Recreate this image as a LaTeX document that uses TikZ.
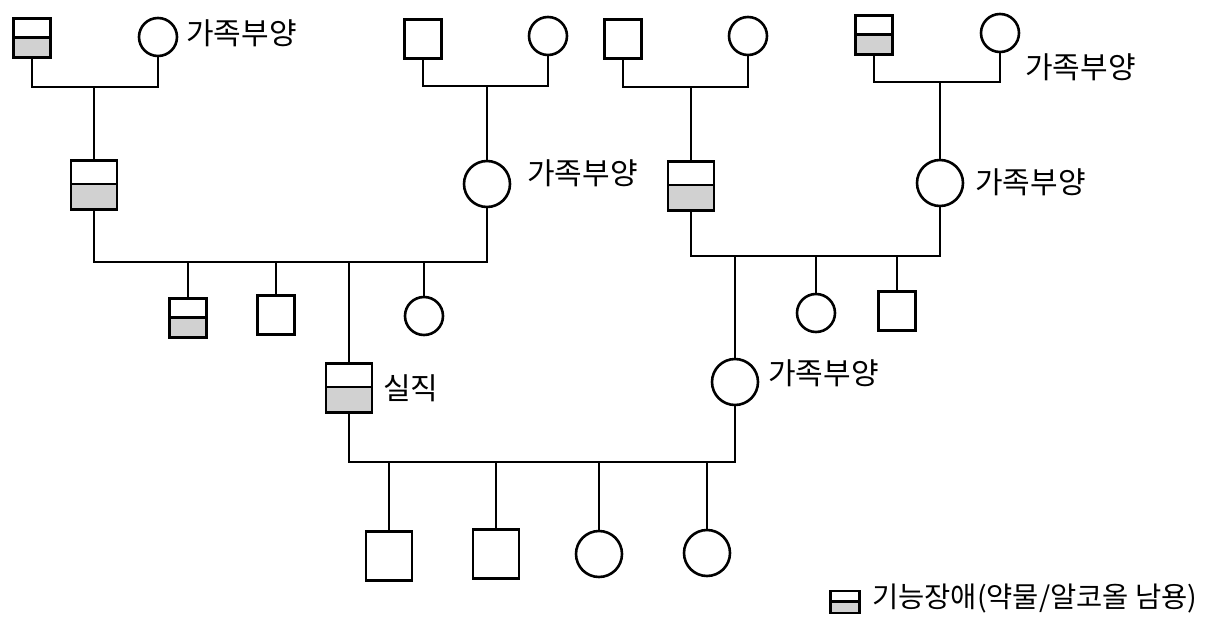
\documentclass[tikz,border=0pt]{standalone}
\usepackage{fontspec}
\setmainfont{Noto Sans CJK KR}
\usetikzlibrary{calc}
\definecolor{shadegray}{gray}{0.82}
\begin{document}
\begin{tikzpicture}[x=1pt,y=-1pt,
  ln/.style={line width=2.5pt},
  sq/.style={draw, line width=2.8pt, rectangle, inner sep=0pt, fill=white},
  smsq/.style={sq, minimum width=37pt, minimum height=39pt},
  bgsq/.style={sq, minimum width=46pt, minimum height=49pt},
  ci/.style={draw, line width=2.6pt, circle, inner sep=0pt, fill=white},
  smci/.style={ci, minimum size=38pt},
  bgci/.style={ci, minimum size=46pt},
  dys/.style={path picture={
    \fill[shadegray] (path picture bounding box.south west) rectangle
      ($(path picture bounding box.north east)!0.48!(path picture bounding box.south east)$);
    \draw[line width=2.6pt] ($(path picture bounding box.north west)!0.48!(path picture bounding box.south west)$) --
      ($(path picture bounding box.north east)!0.48!(path picture bounding box.south east)$);}},
  lbl/.style={anchor=west, inner sep=0pt, font=\fontsize{30}{30}\selectfont}
]
\useasboundingbox (0,0) rectangle (1212,623);

% generation 1
\node[smsq, dys] (a1) at (32,38) {};
\node[smci] (a2) at (158,37) {};
\node[smsq] (b1) at (423,39) {};
\node[smci] (b2) at (548,36) {};
\node[smsq] (c1) at (623,39) {};
\node[smci] (c2) at (748,36) {};
\node[smsq, dys] (d1) at (874,35) {};
\node[smci] (d2) at (1000,33) {};

% generation 2
\node[bgsq, dys] (e1) at (94,185) {};
\node[bgci] (e2) at (487,184) {};
\node[bgsq, dys] (f1) at (691,186) {};
\node[bgci] (f2) at (940,183) {};

% children of e
\node[smsq, dys] (g1) at (188,318) {};
\node[smsq] (g2) at (276,315) {};
\node[bgsq, dys] (g3) at (349,388) {};
\node[smci] (g4) at (424,316) {};

% children of f
\node[bgci] (h1) at (735,382) {};
\node[smci] (h2) at (816,313) {};
\node[smsq] (h3) at (897,311) {};

% generation 3
\node[bgsq] (i1) at (389,556) {};
\node[bgsq] (i2) at (496,554) {};
\node[bgci] (i3) at (599,554) {};
\node[bgci] (i4) at (707,553) {};

% marriage line coordinates
\coordinate (am) at (94,87);
\coordinate (bm) at (487,86);
\coordinate (cm) at (691,87);
\coordinate (dm) at (940,82);
\coordinate (em) at (349,262);
\coordinate (fm) at (735,256);
\coordinate (gm) at (540,462);

% connectors
\draw[ln] (a1.south) |- (am) -| (a2.south);
\draw[ln] (am) -- (e1.north);
\draw[ln] (b1.south) |- (bm) -| (b2.south);
\draw[ln] (bm) -- (e2.north);
\draw[ln] (c1.south) |- (cm) -| (c2.south);
\draw[ln] (cm) -- (f1.north);
\draw[ln] (d1.south) |- (dm) -| (d2.south);
\draw[ln] (dm) -- (f2.north);

\draw[ln] (e1.south) |- (em) -| (e2.south);
\draw[ln] (g1.north) -- (g1.north |- em);
\draw[ln] (g2.north) -- (g2.north |- em);
\draw[ln] (g3.north) -- (g3.north |- em);
\draw[ln] (g4.north) -- (g4.north |- em);

\draw[ln] (f1.south) |- (fm) -| (f2.south);
\draw[ln] (h1.north) -- (h1.north |- fm);
\draw[ln] (h2.north) -- (h2.north |- fm);
\draw[ln] (h3.north) -- (h3.north |- fm);

\draw[ln] (g3.south) |- (gm) -| (h1.south);
\draw[ln] (i1.north) -- (i1.north |- gm);
\draw[ln] (i2.north) -- (i2.north |- gm);
\draw[ln] (i3.north) -- (i3.north |- gm);
\draw[ln] (i4.north) -- (i4.north |- gm);

% labels
\node[lbl] (la2) at (186,33) {가족부양};
\node[lbl] (le2) at (527,173) {가족부양};
\node[lbl] (ld2) at (1025,67) {가족부양};
\node[lbl] (lf2) at (975,182) {가족부양};
\node[lbl] (lh1) at (768,373) {가족부양};
\node[lbl] (lg3) at (383,388) {실직};

% legend
\node[sq, dys, minimum width=29pt, minimum height=22pt, line width=2.4pt] (leg) at (845,602) {};
\node[anchor=west, inner sep=0pt, font=\fontsize{28.5}{28.5}\selectfont] (legt) at (872,599) {기능장애(약물/알코올 남용)};
\end{tikzpicture}
\end{document}
